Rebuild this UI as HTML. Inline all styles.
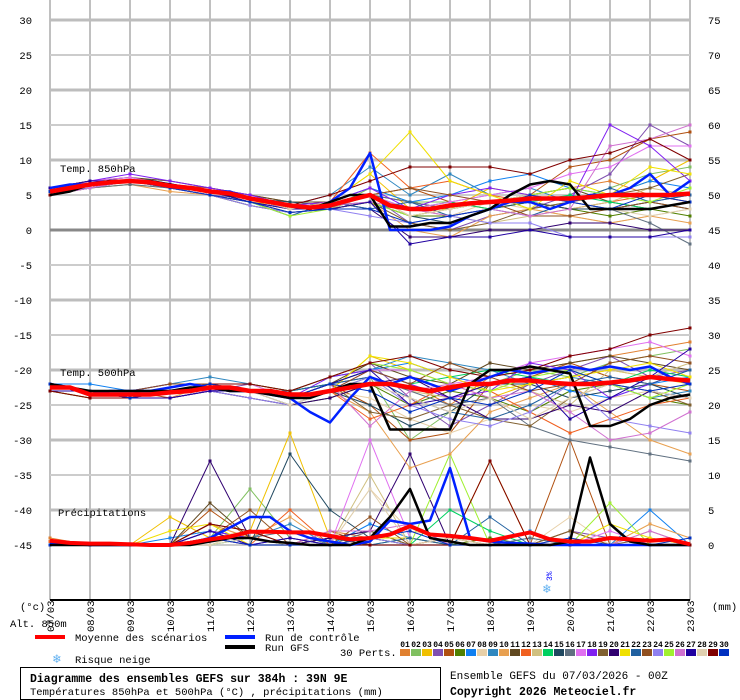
<!DOCTYPE html>
<html><head><meta charset="utf-8">
<style>
body{margin:0;background:#fff;}
#wrap{position:relative;width:740px;height:700px;overflow:hidden;font-family:"Liberation Mono","DejaVu Sans Mono",monospace;}
svg text{font-family:"Liberation Mono","DejaVu Sans Mono",monospace;}
</style></head>
<body>
<div id="wrap">
<svg id="chart" width="740" height="700" xmlns="http://www.w3.org/2000/svg"></svg>
</div>
<script>
// ---- data ----
const dates=["07/03","08/03","09/03","10/03","11/03","12/03","13/03","14/03","15/03","16/03","17/03","18/03","19/03","20/03","21/03","22/03","23/03"];
const leftTicks=[30,25,20,15,10,5,0,-5,-10,-15,-20,-25,-30,-35,-40,-45];
const rightTicks=[75,70,65,60,55,50,45,40,35,30,25,20,15,10,5,0];
const memberColors=["#e08030","#80c060","#f0c000","#8050b0","#b05010","#508000","#1080f0","#e8d0a8","#3088c0","#e8a050","#604820","#f06020","#d0c080","#00d060","#204860","#607080","#e070f0","#8020f0","#806030","#300070","#f0e000","#2060a0","#905020","#9080f0","#a0f030","#d070d0","#2000a0","#e0d0b0","#800000","#0030c0"];
const t850=[
[5,6.5,7,6,5,4,3,4,5,2,3,4,5,6,7,5,4],
[6,7,7,6,5.5,4.5,3,3,6,4,4,5,3,4,6,8,9],
[5.5,6.5,7,6.5,5.5,4,3.5,4,8,3,3,6,5,4,5,7,10],
[5,6,7,6,5,4.5,3,3,5,1,0,2,3,5,8,15,12],
[6,7,7.5,6.5,6,5,4,4,5,6,4,3,5,9,10,13,14],
[5,6,7,6,5,3.5,2.5,3,4,2,2,3,4,3,2,3,2],
[5.5,6.5,7,6,5,4,3,4,6,4,5,7,8,6,5,7,6],
[5,6,6.5,6,5,4,3,3,4,3,2,4,3,2,1,2,3],
[6,6.5,7,6.5,5.5,4.5,3.5,5,9,5,8,5,6,4,3,4,5],
[5,6,6.5,5.5,5,4,2.5,3,4,0,-1,2,3,2,1,2,1],
[6,7,7.5,7,6,5,4,4,5,4,3,4,5,6,4,3,4],
[5.5,6.5,7,6.5,5.5,4.5,3.5,4,11,6,7,5,4,3,4,5,4],
[5,6,6.5,6,5,4,3,3,5,3,2,1,2,3,4,6,5],
[5.5,6.5,7,6.5,5.5,4.5,3,4,5,3,4,3,4,5,4,3,4],
[6,7,7,6,5.5,4.5,4,3.5,4,2,1,3,4,3,3,4,3],
[5,6,6.5,6,5,4,3,4,5,4,3,4,5,4,3,1,-2],
[5.5,7,7.5,6.5,5.5,4.5,3.5,4,5,3,4,5,6,8,9,12,12],
[6,7,8,7,6,5,3.5,4,6,3,5,6,5,4,15,12,7],
[5,6,7,6,5,3.5,2.5,3,4,1,0,1,3,4,5,6,8],
[5.5,6.5,7,6.5,5.5,4,3,4,3,-1,-1,0,0,1,1,0,0],
[5,6.5,7,6,5,4,3,4,8,14,7,5,3,7,5,9,8],
[5.5,6,7,6,5,4,2,4,3,4,2,3,2,4,6,4,5],
[6,7,7,6,5.5,4.5,3,4,5,6,5,4,2,2,3,4,3],
[5,6,7,6,5,3.5,2.5,3,2,1,2,1,1,-1,-1,-1,-1],
[5.5,6.5,7,6,5.5,4,2,3,4,2,3,4,5,6,5,4,6],
[5,6,7,6,5,4,3,3.5,4,3,2,3,2,3,12,13,15],
[6,7,7,6.5,5.5,4,3,3,4,-2,-1,-1,0,-1,-1,-1,0],
[5.5,6.5,7,6.5,5.5,4.5,3,4,5,2,3,4,5,4,3,2,3],
[5,6.5,7,6.5,5.5,4.5,3.5,5,7,9,9,9,8,10,11,13,10],
[5.5,6.5,7,6,5,4,2.5,3,3,1,2,3,5,4,3,5,4]];
const t500=[
[-22,-23,-24,-23,-22,-23,-24,-22,-20,-22,-25,-21,-20,-19,-18,-17,-16],
[-23,-23,-23,-22,-22,-22,-24,-23,-21,-30,-26,-22,-20,-21,-19,-18,-17],
[-22,-23,-24,-23,-22,-23,-24,-23,-18,-20,-22,-24,-22,-21,-20,-21,-22],
[-23,-24,-24,-23,-23,-22,-23,-21,-19,-24,-28,-25,-22,-20,-18,-21,-20],
[-22,-23,-23,-24,-23,-23,-24,-22,-25,-30,-29,-22,-21,-19,-21,-22,-23],
[-23,-23,-24,-24,-23,-24,-25,-24,-22,-25,-23,-24,-26,-23,-22,-24,-25],
[-22,-22,-23,-23,-22,-23,-23,-21,-20,-19,-21,-22,-21,-23,-24,-22,-21],
[-23,-24,-24,-23,-23,-24,-25,-23,-24,-27,-29,-27,-25,-26,-24,-23,-22],
[-22,-23,-23,-22,-21,-22,-23,-22,-20,-18,-19,-20,-22,-21,-22,-24,-23],
[-22,-23,-24,-24,-22,-23,-24,-23,-26,-34,-32,-26,-24,-22,-26,-30,-32],
[-23,-23,-24,-23,-22,-22,-23,-22,-19,-21,-22,-19,-20,-19,-18,-19,-20],
[-22,-23,-24,-24,-23,-23,-24,-23,-27,-25,-22,-23,-26,-29,-27,-25,-24],
[-23,-24,-24,-23,-22,-23,-24,-22,-21,-23,-24,-22,-23,-25,-20,-21,-19],
[-22,-23,-24,-23,-23,-23,-23,-22,-20,-22,-21,-20,-21,-22,-22,-20,-21],
[-23,-23,-23,-23,-22,-23,-25,-23,-25,-28,-26,-22,-22,-24,-23,-22,-24],
[-22,-23,-24,-24,-23,-23,-24,-22,-21,-23,-25,-24,-28,-30,-31,-32,-33],
[-23,-23,-24,-23,-22,-22,-24,-23,-20,-20,-22,-21,-19,-18,-17,-16,-18],
[-22,-23,-23,-22,-22,-23,-24,-21,-20,-22,-24,-23,-19,-20,-24,-22,-20],
[-23,-24,-24,-23,-22,-23,-24,-22,-26,-27,-25,-27,-28,-24,-22,-23,-25],
[-22,-23,-24,-24,-23,-24,-25,-24,-22,-21,-24,-27,-27,-25,-26,-23,-24],
[-23,-23,-24,-23,-22,-23,-24,-23,-18,-19,-21,-23,-22,-21,-20,-19,-21],
[-22,-23,-24,-23,-23,-23,-23,-22,-21,-24,-26,-27,-25,-22,-21,-22,-20],
[-23,-23,-23,-22,-22,-23,-24,-23,-20,-22,-19,-21,-23,-22,-19,-18,-19],
[-22,-23,-24,-24,-23,-24,-25,-23,-21,-25,-27,-28,-26,-22,-27,-28,-29],
[-23,-24,-24,-23,-22,-22,-23,-21,-19,-20,-22,-23,-21,-20,-22,-24,-22],
[-22,-23,-24,-23,-23,-23,-24,-22,-28,-23,-22,-24,-23,-26,-30,-29,-26],
[-23,-23,-24,-24,-23,-23,-24,-22,-20,-25,-24,-22,-21,-27,-24,-21,-17],
[-22,-23,-23,-23,-22,-23,-25,-23,-22,-24,-26,-24,-27,-24,-22,-23,-24],
[-23,-24,-24,-23,-22,-22,-23,-21,-19,-18,-20,-21,-20,-18,-17,-15,-14],
[-22,-23,-24,-23,-22,-23,-24,-22,-23,-26,-24,-25,-23,-20,-22,-23,-22]];
const precip=[
[1,0,0,0,3,1,0,2,1,0,1,0,0,0,1,0,0],
[0.5,0,0,0,1,8,1,0,0,1,0,0,0,0,0,0,0],
[0,0,0,4,1,2,16,1,0,0,0,12,0,0,0,0,0],
[0,0,0,0,2,1,0,1,0,0,0,0,0,2,1,0,0],
[0,0,0,0,5,1,0,2,0,0,1,0,0,15,0,0,0],
[0,0,0,0,1,0,0,1,0,0,0,1,0,0,0,0,0],
[0,0,0,1,2,1,0,0,3,1,0,0,2,0,0,5,0],
[0,0,0,0,0,2,0,0,8,2,1,0,0,4,0,0,0],
[0,0,0,0,2,1,3,0,0,0,0,0,1,0,0,0,0],
[0,0,0,0,3,1,4,0,1,0,0,0,0,2,0,3,1],
[0,0,0,0,6,1,0,1,0,0,0,0,0,0,0,0,0],
[0.5,0,0,0,1,0,5,0,0,0,0,0,0,0,0,0,0],
[0,0,0,0,1,2,0,0,10,0,1,0,0,0,0,2,0],
[0,0,0,0,0,1,0,0,0,0,5,2,0,0,0,0,0],
[0,0,0,0,1,0,13,5,1,0,0,0,0,0,0,0,0],
[0,0,0,0,1,1,2,0,2,0,0,0,1,0,0,0,0],
[0,0,0,0,1,0,0,0,15,1,0,0,0,0,2,0,0],
[0,0,0,0,2,1,0,0,0,0,0,0,0,0,0,0,0],
[0,0,0,0,3,2,0,1,2,0,0,0,0,2,0,1,0],
[0,0,0,0,12,1,0,1,2,13,0,0,0,0,0,0,0],
[0,0,0,2,3,0,0,0,1,1,0,0,0,0,3,1,0],
[0,0,0,0,2,0,1,0,0,1,0,4,0,0,1,0,0],
[0,0,0,0,1,5,0,0,4,0,0,0,0,0,0,0,0],
[0,0,0,0,2,0,1,0,1,0,0,0,0,0,0,0,0],
[0,0,0,0,1,1,0,0,0,0,13,0,0,0,6,0,0],
[0,0,0,0,1,0,0,2,2,3,0,0,0,0,0,2,0],
[0,0,0,0,2,0,1,0,0,0,0,0,0,0,1,0,0],
[0,0,0,0,0,1,0,0,8,0,1,0,0,0,0,0,0],
[0,0,0,0,3,2,0,0,0,0,0,12,0,0,0,0,0],
[0,0,0,0,1,0,0,0,1,2,0,0,0,1,0,0,1]];
const mean850=[5.5,6,6.5,6.8,7,6.8,6.3,6,5.5,5.2,4.5,4,3.5,3.2,3.5,4.3,5,3.5,3,3,3.5,3.8,4,4.2,4.5,4.5,4.5,4.7,5,5,5,5,5.2];
const ctrl850=[6,6.5,6.5,7,7,7,6.5,6,5.5,5.5,4.5,4,3.5,3,4,6,11,0,0,0,0.5,2,3,4,4,3,4,5,5,6,8,5,7];
const gfs850=[5,5.5,6.5,7,7,7,6.5,6,5.5,5,4.5,4,3.5,3,4,5,5,0.5,0.5,1,1,2,3,5,6.5,7,6.5,3,3,3,3,3.5,4];
const mean500=[-22.5,-22.5,-23.5,-23.5,-23.5,-23.5,-23.2,-23,-22.5,-22.5,-23,-23,-23.5,-23.5,-23,-22.5,-22,-22,-22.5,-23,-22.5,-22,-22,-21.5,-21.5,-21.8,-22,-22,-21.8,-21.5,-21,-21.3,-21.5];
const ctrl500=[-22,-22.5,-23.5,-23,-23,-23,-22.5,-22,-22.5,-23,-23,-23.5,-24,-26,-27.5,-24,-21,-22,-21,-22,-23,-22,-21,-20,-20.5,-20,-19.5,-20,-19.5,-20,-19.5,-21,-22];
const gfs500=[-22,-22.5,-23,-23,-23,-23,-23,-22.5,-22.5,-23,-23,-23.5,-24,-24,-23,-22,-22,-28.5,-28.5,-28.5,-28.5,-22,-20,-20,-19.5,-20,-20.5,-28,-28,-27,-25,-24,-23.5];
const meanPrecip=[0.6,0.3,0.2,0.2,0.1,0,0,0.3,0.8,1.2,1.9,1.9,1.8,1.8,1.3,0.8,1,1.5,2.7,1.5,1.3,1,0.6,1.2,1.8,0.8,0.5,0.5,1,0.8,0.6,0.8,0.1];
const ctrlPrecip=[0.3,0.1,0,0,0,0,0,0.3,1,2.5,4,4,2,1,0.5,0,0.5,3.5,3,3.5,11,1,0.5,0.3,0.2,0,0,0,0,0,0,0,0];
const gfsPrecip=[0,0,0,0,0,0,0,0,0.5,1,1,0.5,0.3,0,0,0,1,4,8,1,0.5,0,0,0,0,0,0.5,12.5,3,0.5,0,0,0];

// ---- axes ----
const X0=50,X1=690,Y_ZERO=230,PX=7,P_ZERO=545,BOTTOM=600;
const xAt=(i,n)=>X0+i*(X1-X0)/(n-1);
const yT=v=>Y_ZERO-PX*v;
const yP=v=>P_ZERO-PX*v;

const svg=document.getElementById('chart');
const NS='http://www.w3.org/2000/svg';
function mk(tag,attrs,parent){const e=document.createElementNS(NS,tag);for(const k in attrs)e.setAttribute(k,attrs[k]);(parent||svg).appendChild(e);return e;}
function txt(x,y,s,attrs,parent){const e=mk('text',Object.assign({x:x,y:y,'font-size':10.5,fill:'#000'},attrs||{}),parent);e.textContent=s;return e;}

// grid
const grid=mk('g',{});


for(let i=0;i<dates.length;i++){
  const x=X0+i*40;
  mk('line',{x1:x,y1:0,x2:x,y2:BOTTOM,stroke:'#c0c0c0','stroke-width':2},grid);
}
leftTicks.forEach(v=>{
  const y=yT(v);
  const thick=(v%10===0);
  if(v===0){mk('line',{x1:X0,y1:y,x2:X1,y2:y,stroke:'#888','stroke-width':3},grid);}
  else mk('line',{x1:X0,y1:y,x2:X1,y2:y,stroke:thick?'#bdbdbd':'#cccccc','stroke-width':thick?3:2},grid);
});
mk('line',{x1:X0,y1:BOTTOM,x2:X1,y2:BOTTOM,stroke:'#000','stroke-width':2},grid);

// tick labels
const lt=mk('g',{});


leftTicks.forEach(v=>{txt(32,yT(v)+4,String(v),{'text-anchor':'end'},lt);});
const rt=mk('g',{});


rightTicks.forEach(v=>{txt(708,yP(v)+4,String(v),{},rt);});
const xl=mk('g',{});


dates.forEach((d,i)=>{const x=X0+i*40+4;txt(x,632,d,{transform:'rotate(-90 '+x+' 632)'},xl);});
txt(20,610,'(°c)',{});
txt(10,627,'Alt. 850m',{});
txt(712,610,'(mm)',{});

// series
function line(vals,y,color,w,name,markers){
  const g=mk('g',{});
  
  
  const n=vals.length;
  const pts=vals.map((v,i)=>xAt(i,n).toFixed(1)+','+y(v).toFixed(1)).join(' ');
  mk('polyline',{points:pts,fill:'none',stroke:color,'stroke-width':w,'stroke-linejoin':'round'},g);
  if(markers){vals.forEach((v,i)=>{mk('rect',{x:xAt(i,n)-1.5,y:y(v)-1.5,width:3,height:3,fill:color},g);});}
}
precip.forEach((r,k)=>line(r,yP,memberColors[k],1,'precip-member-'+(k+1),true));
t500.forEach((r,k)=>line(r,yT,memberColors[k],1,'t500-member-'+(k+1),true));
t850.forEach((r,k)=>line(r,yT,memberColors[k],1,'t850-member-'+(k+1),true));
line(ctrlPrecip,yP,'#0020ff',2.5,'precip-control',false);
line(gfsPrecip,yP,'#000',2.5,'precip-gfs',false);
line(meanPrecip,yP,'#ff0000',4,'precip-mean',false);
line(ctrl500,yT,'#0020ff',2.5,'t500-control',false);
line(gfs500,yT,'#000',2.5,'t500-gfs',false);
line(mean500,yT,'#ff0000',4.5,'t500-mean',false);
line(ctrl850,yT,'#0020ff',2.5,'t850-control',false);
line(gfs850,yT,'#000',2.5,'t850-gfs',false);
line(mean850,yT,'#ff0000',4.5,'t850-mean',false);

// section labels
const l1=txt(60,172,'Temp. 850hPa',{});


const l2=txt(60,376,'Temp. 500hPa',{});


const l3=txt(58,516,'Précipitations',{});



// snow risk
const sn=txt(543,593,'❄',{'font-size':13,fill:'#60b0f0'});


txt(552,581,'3%',{'font-size':8,fill:'#0000ff',transform:'rotate(-90 552 581)'});

// legend
const lg=mk('g',{});


mk('line',{x1:35,y1:637,x2:65,y2:637,stroke:'#ff0000','stroke-width':4},lg);
txt(75,641,'Moyenne des scénarios',{},lg);
mk('line',{x1:225,y1:637,x2:255,y2:637,stroke:'#0020ff','stroke-width':4},lg);
txt(265,641,'Run de contrôle',{},lg);
mk('line',{x1:225,y1:647,x2:255,y2:647,stroke:'#000','stroke-width':4},lg);
txt(265,651,'Run GFS',{},lg);
txt(53,663,'❄',{'font-size':13,fill:'#60b0f0'},lg);
txt(75,663,'Risque neige',{},lg);
txt(340,656,'30 Perts.',{},lg);
memberColors.forEach((c,k)=>{
  const x=400+k*11;
  const s=mk('rect',{x:x,y:649,width:10,height:7,fill:c},lg);
  
  
  txt(x+5,647,String(k+1).padStart(2,'0'),{'font-size':8,'font-weight':'bold','text-anchor':'middle'},lg);
});

// footer
const box=mk('rect',{x:20.5,y:667.5,width:420,height:32,fill:'none',stroke:'#000','stroke-width':1});


const t1=txt(30,682,'Diagramme des ensembles GEFS sur 384h : 39N 9E',{'font-weight':'bold','font-size':11.5});


const t2=txt(30,695,'Températures 850hPa et 500hPa (°C) , précipitations (mm)',{'font-size':10.5});


const t3=txt(450,679,'Ensemble GEFS du 07/03/2026 - 00Z',{'font-size':11});


const t4=txt(450,695,'Copyright 2026 Meteociel.fr',{'font-size':11.5,'font-weight':'bold'});


</script>
</body></html>
